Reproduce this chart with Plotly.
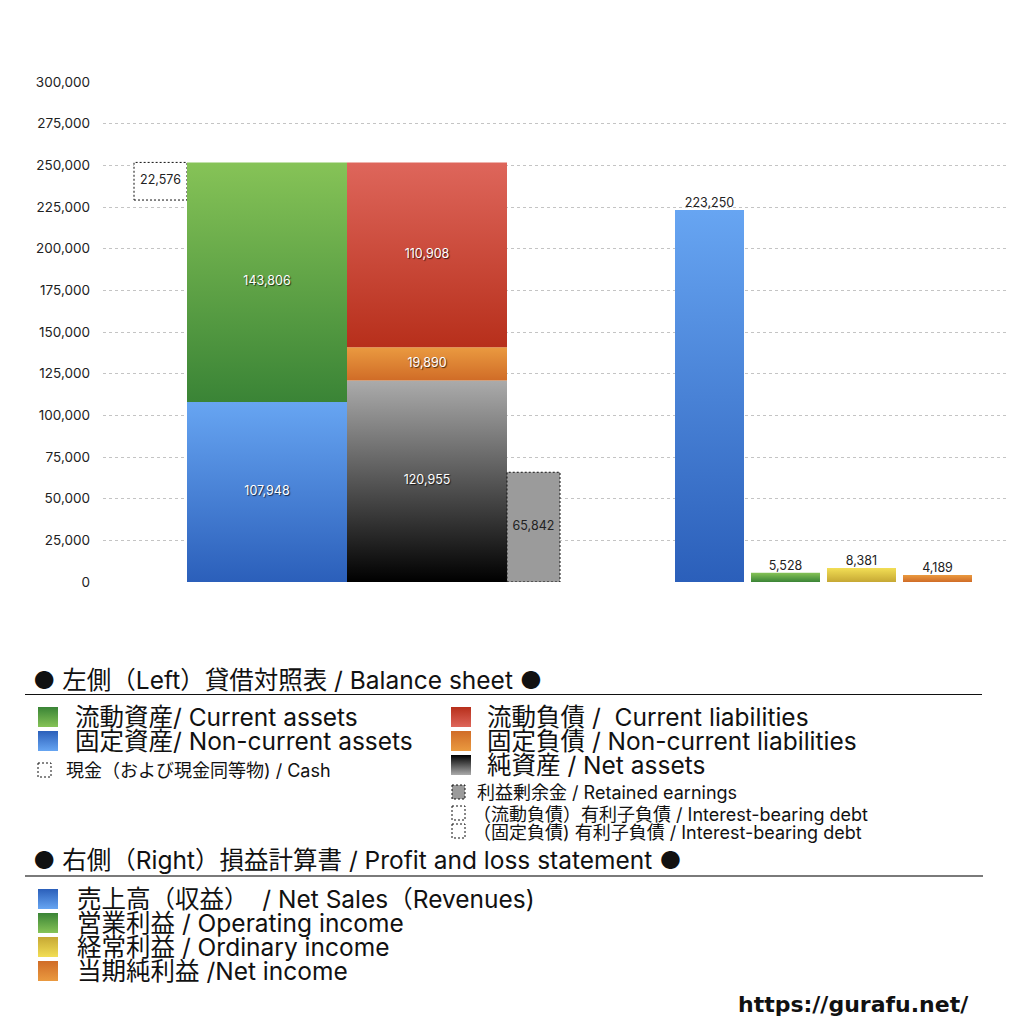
import plotly.graph_objects as go

# ---------------- data ----------------
# Left: balance sheet
cash = 22576
current_assets = 143806
noncurrent_assets = 107948
current_liabilities = 110908
noncurrent_liabilities = 19890
net_assets = 120955
retained_earnings = 65842

# Right: profit and loss statement
pl_names = ["売上高", "営業利益", "経常利益", "当期純利益"]
pl_values = [223250, 5528, 8381, 4189]

y_tick_values = [0, 25000, 50000, 75000, 100000, 125000, 150000, 175000,
                 200000, 225000, 250000, 275000, 300000]

# ---------------- layout constants ----------------
W = H = 1024
OFF = 8  # page body margin of the browser
PLOT_L, PLOT_R, PLOT_T, PLOT_B = 103, 1007, 82, 582
X_SPAN = PLOT_R - PLOT_L
FONT = "Inter, Noto Sans CJK JP"
CJK = "Inter, Noto Sans CJK JP"

# bar slots (centre, width) along the x axis, in axis units
SLOT_CASH = (57.5, 53)
SLOT_ASSETS = (164, 160)
SLOT_LIAB = (324, 160)
SLOT_RE = (430.5, 53)
PL_START, PL_STEP, PL_WIDTH = 606.5, 76, 69

GREEN = ("#86c357", "#3a8436")
BLUE = ("#67a5f2", "#2b5fba")
RED = ("#de665b", "#b72f1b")
ORANGE = ("#ea9a40", "#d06c27")
BLACK = ("#ababab", "#000000")
YELLOW = ("#f2de55", "#c6a834")

fig = go.Figure()


def rect_trace(x0, x1, y0, y1, low_color, high_color, axes=("x", "y"),
               dotted=False, solid=None):
    t = dict(
        x=[x0, x1, x1, x0, x0], y=[y0, y0, y1, y1, y0],
        mode="lines", fill="toself", hoverinfo="skip", showlegend=False,
        xaxis=axes[0], yaxis=axes[1],
    )
    if dotted:
        t["line"] = dict(color="#111111", width=1, dash="2px,2px")
    else:
        t["line"] = dict(width=0, color="rgba(0,0,0,0)")
    if solid is not None:
        t["fillcolor"] = solid
    else:
        t["fillgradient"] = dict(type="vertical",
                                 colorscale=[[0, low_color], [1, high_color]])
    return go.Scatter(**t)


def bar(slot, base, value, colors=None, dotted=False, solid=None):
    c, w = slot
    if colors is None:
        colors = ("#fff", "#fff")
    # colorscale 0 = lowest y value (bottom), 1 = top
    return rect_trace(c - w / 2, c + w / 2, base, base + value,
                      colors[1], colors[0], dotted=dotted, solid=solid)


total_assets = noncurrent_assets + current_assets

# Balance sheet bars
fig.add_trace(bar(SLOT_CASH, total_assets - cash, cash, dotted=True, solid="#ffffff"))
fig.add_trace(bar(SLOT_ASSETS, 0, noncurrent_assets, BLUE))
fig.add_trace(bar(SLOT_ASSETS, noncurrent_assets, current_assets, GREEN))
fig.add_trace(bar(SLOT_LIAB, 0, net_assets, BLACK))
fig.add_trace(bar(SLOT_LIAB, net_assets, noncurrent_liabilities, ORANGE))
fig.add_trace(bar(SLOT_LIAB, net_assets + noncurrent_liabilities, current_liabilities, RED))
fig.add_trace(bar(SLOT_RE, 0, retained_earnings, dotted=True, solid="#9b9b9b"))

# P&L bars
pl_colors = [BLUE, GREEN, YELLOW, ORANGE]
pl_x = [PL_START + i * PL_STEP for i in range(len(pl_values))]
for xc, v, col in zip(pl_x, pl_values, pl_colors):
    fig.add_trace(bar((xc, PL_WIDTH), 0, v, col))


def fmt(v):
    return f"{v:,}"


inside_white = [
    (SLOT_ASSETS[0], noncurrent_assets / 2, noncurrent_assets),
    (SLOT_ASSETS[0], noncurrent_assets + current_assets / 2, current_assets),
    (SLOT_LIAB[0], net_assets / 2, net_assets),
    (SLOT_LIAB[0], net_assets + noncurrent_liabilities / 2, noncurrent_liabilities),
    (SLOT_LIAB[0], net_assets + noncurrent_liabilities + current_liabilities / 2,
     current_liabilities),
]
fig.add_trace(go.Scatter(
    x=[p[0] for p in inside_white], y=[p[1] for p in inside_white],
    text=[fmt(p[2]) for p in inside_white], mode="text",
    textfont=dict(family=FONT, size=12.5, color="#ffffff",
                  shadow="1px 1px 1px rgba(0,0,0,0.7)"),
    hoverinfo="skip", showlegend=False))

inside_black = [
    (SLOT_CASH[0], total_assets - cash / 2, cash),
    (SLOT_RE[0], retained_earnings / 2, retained_earnings),
]
fig.add_trace(go.Scatter(
    x=[p[0] for p in inside_black], y=[p[1] for p in inside_black],
    text=[fmt(p[2]) for p in inside_black], mode="text",
    textfont=dict(family=FONT, size=12.5, color="#222222"),
    hoverinfo="skip", showlegend=False))

fig.add_trace(go.Scatter(
    x=pl_x, y=pl_values, text=[fmt(v) for v in pl_values],
    mode="text", textposition="top center",
    textfont=dict(family=FONT, size=12.5, color="#222222"),
    hoverinfo="skip", showlegend=False))

# ---------------- legend area (pixel overlay axes) ----------------
legend_squares = [
    (38, 707, 58, 727, GREEN), (38, 731, 58, 751, BLUE),
    (451, 707, 471, 727, RED), (451, 731, 471, 751, ORANGE),
    (451, 755, 471, 775, BLACK),
    (38, 889, 58, 909, BLUE), (38, 913, 58, 933, GREEN),
    (38, 937, 58, 957, YELLOW), (38, 961, 58, 981, ORANGE),
]
for x0, y0, x1, y1, col in legend_squares:
    # y2 axis is reversed (pixels): lowest value = top
    fig.add_trace(rect_trace(x0, x1, y0, y1, col[0], col[1], axes=("x2", "y2")))

dotted_boxes = [
    (38, 763, 51, 777, "#ffffff"),
    (452, 785, 465, 799, "#9b9b9b"),
    (452, 806, 465, 820, "#ffffff"),
    (452, 824, 465, 838, "#ffffff"),
]
for x0, y0, x1, y1, fc in dotted_boxes:
    fig.add_trace(rect_trace(x0, x1, y0, y1, None, None, axes=("x2", "y2"),
                             dotted=True, solid=fc))

BIG, SMALL = 24.5, 18
texts = [
    (31, 680, "● 左側（Left）貸借対照表 / Balance sheet ●", BIG),
    (73, 717, "流動資産/ Current assets", BIG),
    (73, 741, "固定資産/ Non-current assets", BIG),
    (64, 770, "現金（および現金同等物) / Cash", SMALL),
    (485, 717, "流動負債 /  Current liabilities", BIG),
    (485, 741, "固定負債 / Non-current liabilities", BIG),
    (485, 765, "純資産 / Net assets", BIG),
    (475, 792, "利益剰余金 / Retained earnings", SMALL),
    (471, 814, "（流動負債）有利子負債 / Interest-bearing debt", SMALL),
    (471, 832, "（固定負債) 有利子負債 / Interest-bearing debt", SMALL),
    (31, 860, "● 右側（Right）損益計算書 / Profit and loss statement ●", BIG),
    (75, 899, "売上高（収益）  / Net Sales（Revenues)", BIG),
    (75, 923, "営業利益 / Operating income", BIG),
    (75, 947, "経常利益 / Ordinary income", BIG),
    (75, 971, "当期純利益 /Net income", BIG),
]
annotations = []
for x, y, t, s in texts:
    annotations.append(dict(
        x=x, y=y, xref="x2", yref="y2", text=t, showarrow=False,
        xanchor="left", yanchor="middle",
        font=dict(family=CJK, size=s, color="#111111")))
annotations.append(dict(
    x=971, y=1004, xref="x2", yref="y2", text="<b>https://gurafu.net/</b>",
    showarrow=False, xanchor="right", yanchor="middle",
    font=dict(family="DejaVu Sans", size=22, color="#111111")))

shapes = [
    dict(type="line", xref="x2", yref="y2", x0=25, x1=982, y0=694.5, y1=694.5,
         line=dict(color="#111111", width=1)),
    dict(type="line", xref="x2", yref="y2", x0=25, x1=983, y0=876, y1=876,
         line=dict(color="#7a7a7a", width=2)),
]

fig.update_layout(
    width=W, height=H,
    margin=dict(l=0, r=0, t=0, b=0, autoexpand=False),
    paper_bgcolor="#ffffff", plot_bgcolor="rgba(0,0,0,0)",
    showlegend=False,
    xaxis=dict(domain=[(PLOT_L - OFF) / W, (PLOT_R - OFF) / W], range=[0, X_SPAN],
               visible=False, fixedrange=True),
    yaxis=dict(domain=[(H - (PLOT_B - OFF)) / H, (H - (PLOT_T - OFF)) / H],
               range=[0, 300000],
               tickvals=y_tick_values, tickformat=",", showgrid=True,
               gridcolor="#c4c4c4", griddash="dot", gridwidth=1,
               zeroline=False, showline=False, ticks="",
               tickfont=dict(family=FONT, size=13.5, color="#222222"),
               ticklabelstandoff=12, fixedrange=True),
    xaxis2=dict(domain=[0, 1], range=[OFF, W + OFF], visible=False, anchor="y2",
                fixedrange=True),
    yaxis2=dict(domain=[0, 1], range=[H + OFF, OFF], visible=False, anchor="x2",
                fixedrange=True),
    annotations=annotations,
    shapes=shapes,
)

fig.write_html("out.html")
